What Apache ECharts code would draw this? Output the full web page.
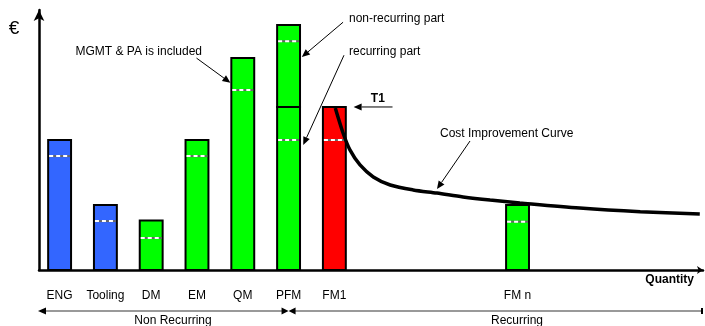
<!DOCTYPE html>
<html>
<head>
<meta charset="utf-8">
<script src="https://cdn.jsdelivr.net/npm/echarts@6/dist/echarts.min.js"></script>
<style>
  html, body { margin: 0; padding: 0; background: #fff; }
  #chart { width: 705px; height: 326px; }
</style>
</head>
<body>
<div id="chart"></div>
<script>
// Cost items along the quantity axis
const categories = ['ENG', 'Tooling', 'DM', 'EM', 'QM', 'PFM', 'FM1', 'FM n'];
const positions  = [0, 1, 2, 3, 4, 5, 6, 10];
const costTotals = [50, 25, 19, 50, 81.5, 94.2, 62.7, 25];
// level of the dashed MGMT & PA split inside each bar
const mgmtLevels = [43.8, 18.8, 12.3, 43.8, 69.2, 88, 50, 18.6];
const costKinds  = ['engineering', 'engineering', 'model', 'model', 'model', 'model', 'first', 'model'];
// PFM is split into a recurring part (bottom) and a non-recurring part (top)
const pfmRecurringTop  = 62.7;
const pfmRecurringMgmt = 50;
// cost improvement (learning) curve after the first flight model
const curveX = [6.02, 6.19, 6.34, 6.56, 6.85, 7.22, 7.72, 8.24, 8.81, 9.40, 10.05, 11.36, 12.68, 13.98];
const curveY = [62.3, 52.7, 46.2, 40.4, 35.8, 32.7, 30.8, 29.6, 28.1, 26.9, 25.8, 23.8, 22.4, 21.5];

const kindColors = { engineering: '#3366ff', model: '#00ff00', first: '#ff0000' };
const FONT = '"Liberation Sans", Arial, sans-serif';

// stacked segments: [x, base, top, mgmt]
const segments = [];
const segmentKinds = [];
categories.forEach((c, i) => {
  if (c === 'PFM') {
    segments.push([positions[i], 0, pfmRecurringTop, pfmRecurringMgmt]);
    segmentKinds.push(costKinds[i]);
    segments.push([positions[i], pfmRecurringTop, costTotals[i], mgmtLevels[i]]);
    segmentKinds.push(costKinds[i]);
  } else {
    segments.push([positions[i], 0, costTotals[i], mgmtLevels[i]]);
    segmentKinds.push(costKinds[i]);
  }
});

const chart = echarts.init(document.getElementById('chart'), null, { renderer: 'canvas' });

chart.setOption({
  animation: false,
  backgroundColor: '#fff',
  grid: { left: 39, right: 2, top: 10, bottom: 56, containLabel: false },
  xAxis: {
    type: 'value', min: -0.45, max: 14.05,
    splitLine: { show: false },
    axisTick: { show: false },
    axisLine: { show: true, lineStyle: { color: '#000', width: 2.5 }, symbol: ['none', 'arrow'], symbolSize: [6, 6] },
    axisLabel: {
      customValues: positions,
      margin: 20,
      color: '#000', fontSize: 12, fontFamily: FONT,
      formatter: v => categories[positions.indexOf(v)] || ''
    }
  },
  yAxis: {
    type: 'value', min: 0, max: 100,
    splitLine: { show: false },
    axisTick: { show: false },
    axisLabel: { show: false },
    axisLine: { show: true, onZero: false, lineStyle: { color: '#000', width: 2.5 }, symbol: ['none', 'arrow'], symbolSize: [8, 11] }
  },
  series: [
    {
      type: 'custom',
      data: segments,
      encode: { x: 0, y: [1, 2] },
      z: 2,
      renderItem(params, api) {
        const x = api.value(0), base = api.value(1), top = api.value(2), mgmt = api.value(3);
        const w = api.size([0.5, 0])[0];
        const pb = api.coord([x, base]);
        const pt = api.coord([x, top]);
        const pm = api.coord([x, mgmt]);
        const left = pb[0] - w / 2;
        return {
          type: 'group',
          children: [
            { type: 'rect', shape: { x: left, y: pt[1], width: w, height: pb[1] - pt[1] },
              style: { fill: kindColors[segmentKinds[params.dataIndex]], stroke: '#000', lineWidth: 2 } },
            { type: 'line', shape: { x1: left + 1, y1: pm[1], x2: left + w - 1, y2: pm[1] },
              style: { stroke: '#666', lineWidth: 2 } },
            { type: 'line', shape: { x1: left + 1, y1: pm[1], x2: left + w - 1, y2: pm[1] },
              style: { stroke: '#fff', lineWidth: 2, lineDash: [4, 3] } }
          ]
        };
      }
    },
    {
      type: 'line',
      data: curveX.map((x, i) => [x, curveY[i]]),
      smooth: 0.3,
      symbol: 'none',
      z: 3,
      lineStyle: { color: '#000', width: 3.5 }
    }
  ]
});

// annotations anchored in data coordinates
const px = (x, y) => chart.convertToPixel({ xAxisIndex: 0, yAxisIndex: 0 }, [x, y]);

function arrow(from, to, head) {
  const [x1, y1] = from, [x2, y2] = to;
  const ang = Math.atan2(y2 - y1, x2 - x1);
  const L = head ? head[0] : 8, W = head ? head[1] : 3.5;
  const bx = x2 - L * Math.cos(ang), by = y2 - L * Math.sin(ang);
  const nx = -Math.sin(ang) * W, ny = Math.cos(ang) * W;
  return [
    { type: 'line', shape: { x1, y1, x2: bx, y2: by }, style: { stroke: '#000', lineWidth: 1 } },
    { type: 'polygon', shape: { points: [[x2, y2], [bx + nx, by + ny], [bx - nx, by - ny]] }, style: { fill: '#000' } }
  ];
}

function text(str, p, opts) {
  return {
    type: 'text', x: p[0], y: p[1],
    style: Object.assign({
      text: str, fill: '#000', font: '12px ' + FONT,
      align: 'left', textAlign: 'left', verticalAlign: 'middle', textVerticalAlign: 'middle'
    }, opts || {})
  };
}

const axisY = px(0, 0)[1];
const axisLeft = px(-0.45, 0)[0];
const axisRight = px(14.05, 0)[0];
const splitX = px(positions[categories.indexOf('PFM')], 0)[0];
const bracketY = axisY + 41;

const g = [];
g.push(text('€', [14, 29], { font: '19px ' + FONT, align: 'center', textAlign: 'center' }));

g.push(text('MGMT & PA is included', px(3.11, 83.8), { align: 'right', textAlign: 'right' }));
g.push(...arrow(px(2.99, 81.5), px(3.73, 72.0)));

g.push(text('non-recurring part', px(6.32, 96.5)));
g.push(...arrow(px(6.19, 95.3), px(5.29, 81.9)));

g.push(text('recurring part', px(6.32, 83.8)));
g.push(...arrow(px(6.21, 82.6), px(5.32, 48.1)));

g.push(text('T1', px(6.95, 66.0), { font: 'bold 12px ' + FONT, align: 'center', textAlign: 'center' }));
g.push(...arrow(px(7.27, costTotals[6]), px(6.42, costTotals[6])));

g.push(text('Cost Improvement Curve', [440, 134]));
g.push(...arrow([470, 141], [437, 189]));

g.push(text('Quantity', [694, axisY + 10], { font: 'bold 12px ' + FONT, align: 'right', textAlign: 'right' }));

// non recurring / recurring brackets below the categories
g.push({ type: 'line', shape: { x1: axisLeft + 4, y1: bracketY, x2: splitX - 4, y2: bracketY }, style: { stroke: '#999', lineWidth: 2 } });
g.push({ type: 'line', shape: { x1: splitX + 4, y1: bracketY, x2: axisRight, y2: bracketY }, style: { stroke: '#999', lineWidth: 2 } });
g.push({ type: 'polygon', shape: { points: [[axisLeft - 1, bracketY], [axisLeft + 7, bracketY - 3.5], [axisLeft + 7, bracketY + 3.5]] }, style: { fill: '#000' } });
g.push({ type: 'polygon', shape: { points: [[splitX, bracketY], [splitX - 7, bracketY - 3.5], [splitX - 7, bracketY + 3.5]] }, style: { fill: '#000' } });
g.push({ type: 'polygon', shape: { points: [[splitX, bracketY], [splitX + 7, bracketY - 3.5], [splitX + 7, bracketY + 3.5]] }, style: { fill: '#000' } });
g.push({ type: 'rect', shape: { x: axisRight - 2, y: bracketY - 3, width: 2, height: 6 }, style: { fill: '#000' } });
g.push(text('Non Recurring', [173, bracketY + 10], { align: 'center', textAlign: 'center' }));
g.push(text('Recurring', [517, bracketY + 10], { align: 'center', textAlign: 'center' }));

chart.setOption({ graphic: g });
</script>
</body>
</html>
